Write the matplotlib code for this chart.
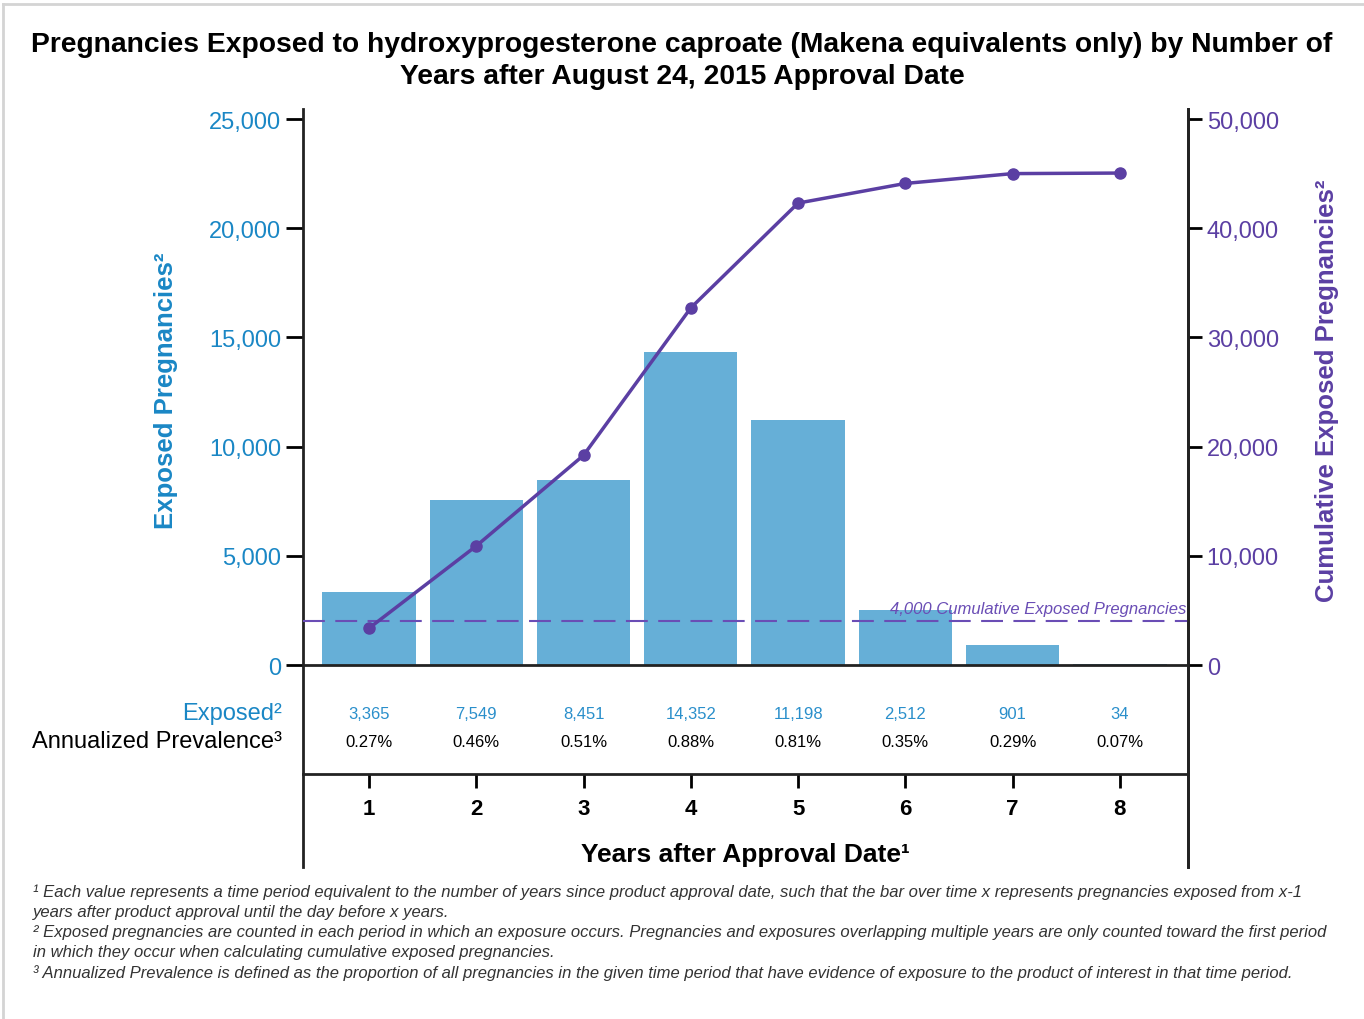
import matplotlib
matplotlib.use("Agg")
import matplotlib.pyplot as plt
from matplotlib.lines import Line2D

plt.rcParams['font.family'] = ['Liberation Sans', 'DejaVu Sans']

years = [1, 2, 3, 4, 5, 6, 7, 8]
exposed = [3365, 7549, 8451, 14352, 11198, 2512, 901, 34]
cumulative = [3365, 10900, 19200, 32700, 42300, 44100, 45000, 45050]
prevalence = ['0.27%', '0.46%', '0.51%', '0.88%', '0.81%', '0.35%', '0.29%', '0.07%']
threshold = 4000

blue = '#1a87c5'
bar_blue = '#66afd7'
purple = '#5b3fa3'

fig = plt.figure(figsize=(13.64, 10.20), dpi=100)
ax = fig.add_axes([303 / 1364, 152 / 1020, 885 / 1364, 758 / 1020])

ax.bar(years, exposed, width=0.87, color=bar_blue, zorder=2)
ax.set_xlim(0.385, 8.635)
ax.set_ylim(-9249, 25458)
ax.set_yticks([0, 5000, 10000, 15000, 20000, 25000])
ax.set_yticklabels(['{:,}'.format(v) for v in [0, 5000, 10000, 15000, 20000, 25000]])
ax.tick_params(axis='y', colors='black', labelcolor=blue, labelsize=17, length=12, width=2, direction='out')
ax.set_ylabel('Exposed Pregnancies²', color=blue, fontsize=18.5, fontweight='bold')
ax.yaxis.set_label_coords(-0.141, 0.63)

ax.spines['top'].set_visible(False)
for s in ['left', 'right', 'bottom']:
    ax.spines[s].set_linewidth(2)
    ax.spines[s].set_color('#222222')
ax.spines['bottom'].set_position(('data', -4990))
ax.set_xticks(years)
ax.set_xticklabels([str(y) for y in years], fontsize=16, fontweight='bold')
ax.tick_params(axis='x', length=10, width=2, pad=7)
ax.set_xlabel('Years after Approval Date¹', fontsize=19, fontweight='bold', labelpad=17)
ax.axhline(0, color='#222222', lw=2, zorder=3)

# threshold line (on left scale: cumulative / 2)
ax.axhline(threshold / 2, color='#6a4db5', lw=1.5, dashes=(10.5, 5), zorder=3)
ax.text(8.62, threshold / 2 + 250, '{:,} Cumulative Exposed Pregnancies'.format(threshold),
        ha='right', va='bottom', fontsize=12, style='italic', color='#6a4db5', zorder=4)

# table rows
for x, e, p in zip(years, exposed, prevalence):
    ax.text(x, -2200, '{:,}'.format(e), ha='center', va='center', fontsize=12, color='#2a8fcb')
    ax.text(x, -3480, p, ha='center', va='center', fontsize=12, color='black')
ax.text(0.19, -2200, 'Exposed²', ha='right', va='center', fontsize=17, color=blue, clip_on=False)
ax.text(0.19, -3480, 'Annualized Prevalence³', ha='right', va='center', fontsize=17, color='black', clip_on=False)

ax2 = ax.twinx()
ax2.set_ylim(-18498, 50916)
ax2.plot(years, cumulative, color=purple, lw=2.5, marker='o', markersize=8, zorder=5)
ax2.set_yticks([0, 10000, 20000, 30000, 40000, 50000])
ax2.set_yticklabels(['{:,}'.format(v) for v in [0, 10000, 20000, 30000, 40000, 50000]])
ax2.tick_params(axis='y', colors='black', labelcolor=purple, labelsize=17, length=10, width=2)
for s in ['top', 'left', 'bottom']:
    ax2.spines[s].set_visible(False)
ax2.spines['right'].set_linewidth(2)
ax2.spines['right'].set_color('#222222')
ax2.set_ylabel('Cumulative Exposed Pregnancies²', color=purple, fontsize=18.5, fontweight='bold')
ax2.yaxis.set_label_coords(1.144, 0.63)

fig.text(0.5, 1 - 61 / 1020,
         'Pregnancies Exposed to hydroxyprogesterone caproate (Makena equivalents only) by Number of\n'
         'Years after August 24, 2015 Approval Date',
         ha='center', va='center', fontsize=20.3, fontweight='bold', linespacing=1.35)

notes = [
    '¹ Each value represents a time period equivalent to the number of years since product approval date, such that the bar over time x represents pregnancies exposed from x-1',
    'years after product approval until the day before x years.',
    '² Exposed pregnancies are counted in each period in which an exposure occurs. Pregnancies and exposures overlapping multiple years are only counted toward the first period',
    'in which they occur when calculating cumulative exposed pregnancies.',
    '³ Annualized Prevalence is defined as the proportion of all pregnancies in the given time period that have evidence of exposure to the product of interest in that time period.',
]
for i, n in enumerate(notes):
    fig.text(33 / 1364, 1 - (892 + i * 20.3) / 1020, n, ha='left', va='center',
             fontsize=12, style='italic', color='#333333')

# frame lines at top and left
fig.add_artist(Line2D([3 / 1364, 1], [1 - 5 / 1020, 1 - 5 / 1020], color='#d4d4d4', lw=2))
fig.add_artist(Line2D([3 / 1364, 3 / 1364], [0, 1 - 5 / 1020], color='#d4d4d4', lw=2))

fig.savefig('out.png', dpi=100, facecolor='white')
